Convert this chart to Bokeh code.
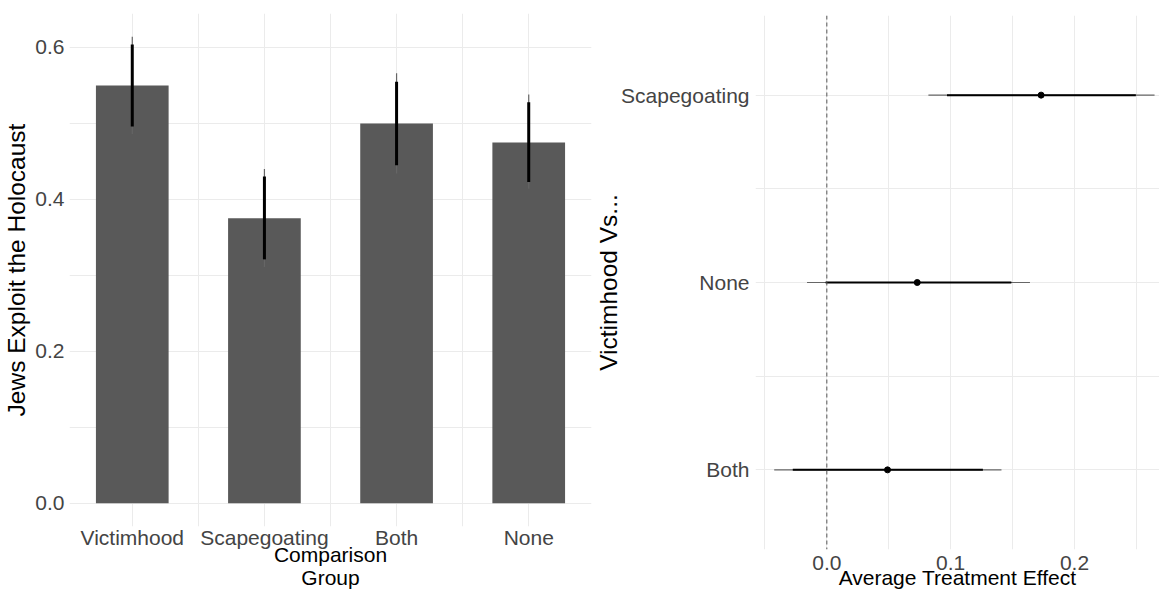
from bokeh.plotting import figure
from bokeh.layouts import row, column
from bokeh.models import (FactorRange, Range1d, FixedTicker, NumeralTickFormatter,
                          Grid, Span)
from bokeh.embed import file_html
from bokeh.resources import INLINE

# ---------------- data ----------------
groups = ["Victimhood", "Scapegoating", "Both", "None"]
means = [0.55, 0.375, 0.50, 0.475]
ci90_low = [0.496, 0.321, 0.445, 0.423]
ci90_high = [0.604, 0.430, 0.555, 0.528]
ci95_low = [0.486, 0.311, 0.434, 0.414]
ci95_high = [0.614, 0.440, 0.566, 0.538]

contrasts = ["Both", "None", "Scapegoating"]
ate = [0.049, 0.073, 0.173]
ate90_low = [-0.0275, -0.001, 0.097]
ate90_high = [0.126, 0.149, 0.2495]
ate95_low = [-0.0425, -0.016, 0.082]
ate95_high = [0.141, 0.164, 0.2646]

y_ticks = [0.0, 0.2, 0.4, 0.6]
y_minor = [0.1, 0.3, 0.5]
x_ticks = [0.0, 0.1, 0.2]
x_minor = [-0.05, 0.05, 0.15, 0.25]

FONT = "Liberation Sans"
GRID = "#ebebeb"
TICK_COL = "#444444"


def style_axis(ax, label_size, tick_size):
    ax.axis_line_color = None
    ax.major_tick_line_color = None
    ax.minor_tick_line_color = None
    ax.major_tick_out = 0
    ax.major_tick_in = 0
    ax.minor_tick_out = 0
    ax.minor_tick_in = 0
    ax.major_label_text_font = FONT
    ax.major_label_text_font_size = tick_size
    ax.major_label_text_color = TICK_COL
    ax.axis_label_text_font = FONT
    ax.axis_label_text_font_size = label_size
    ax.axis_label_text_font_style = "normal"
    ax.axis_label_text_color = "black"


# ---------------- left: bar chart ----------------
p1 = figure(width=592, height=591, output_backend="svg", toolbar_location=None,
            x_range=FactorRange(factors=groups, range_padding=-0.025,
                                range_padding_units="absolute"),
            y_range=Range1d(-0.0307, 0.6447),
            min_border_left=68, min_border_right=1, min_border_top=13,
            min_border_bottom=65)
p1.outline_line_color = None
p1.background_fill_color = "white"
p1.border_fill_color = "white"

p1.vbar(x=groups, top=means, bottom=0, width=0.55, fill_color="#595959",
        line_color=None)
p1.segment(x0=groups, y0=ci95_low, x1=groups, y1=ci95_high,
           line_color="#666666", line_width=1.2)
p1.segment(x0=groups, y0=ci90_low, x1=groups, y1=ci90_high,
           line_color="black", line_width=3)

p1.yaxis.ticker = FixedTicker(ticks=y_ticks, minor_ticks=y_minor)
p1.yaxis.formatter = NumeralTickFormatter(format="0.0")
p1.ygrid.grid_line_color = GRID
p1.ygrid.minor_grid_line_color = GRID
p1.xgrid.grid_line_color = GRID
p1.add_layout(Grid(dimension=0, ticker=FixedTicker(ticks=[1, 2, 3]),
                   grid_line_color=GRID))

style_axis(p1.yaxis[0], "24.5px", "21px")
style_axis(p1.xaxis[0], "21px", "21px")
p1.yaxis.axis_label = "Jews Exploit the Holocaust"
p1.yaxis.major_label_standoff = 5
p1.yaxis.axis_label_standoff = 2
p1.xaxis.axis_label = "Comparison\nGroup"
p1.xaxis.major_label_standoff = -1
p1.xaxis.axis_label_standoff = -9
p1.xaxis.axis_label_text_line_height = 1.0

# ---------------- right: coefficient plot ----------------
p2 = figure(width=567, height=591, output_backend="svg", toolbar_location=None,
            x_range=Range1d(-0.0576, 0.2686),
            y_range=FactorRange(factors=contrasts, range_padding=-0.075,
                                range_padding_units="absolute"),
            min_border_left=161, min_border_right=0, min_border_top=15,
            min_border_bottom=42)
p2.outline_line_color = None
p2.background_fill_color = "white"
p2.border_fill_color = "white"

p2.xaxis.ticker = FixedTicker(ticks=x_ticks, minor_ticks=x_minor)
p2.xaxis.formatter = NumeralTickFormatter(format="0.0")
p2.xgrid.grid_line_color = GRID
p2.xgrid.minor_grid_line_color = GRID
p2.ygrid.grid_line_color = GRID
p2.add_layout(Grid(dimension=1, ticker=FixedTicker(ticks=[1, 2]),
                   grid_line_color=GRID))

p2.add_layout(Span(location=0, dimension="height", line_color="#555555",
                   line_width=1, line_dash="4 3"))
p2.segment(x0=ate95_low, y0=contrasts, x1=ate95_high, y1=contrasts,
           line_color="#666666", line_width=1.2)
p2.segment(x0=ate90_low, y0=contrasts, x1=ate90_high, y1=contrasts,
           line_color="black", line_width=2)
p2.scatter(x=ate, y=contrasts, size=6, fill_color="black", line_color="black")

style_axis(p2.yaxis[0], "24.5px", "21px")
style_axis(p2.xaxis[0], "21px", "21px")
p2.yaxis.axis_label = "Victimhood Vs..."
p2.yaxis.major_label_standoff = 6
p2.yaxis.axis_label_standoff = -4
p2.xaxis.axis_label = "Average Treatment Effect"
p2.xaxis.major_label_standoff = 6
p2.xaxis.axis_label_standoff = -7

layout = row(column(p1), column(p2))
open("out.html", "w").write(file_html(layout, INLINE))
